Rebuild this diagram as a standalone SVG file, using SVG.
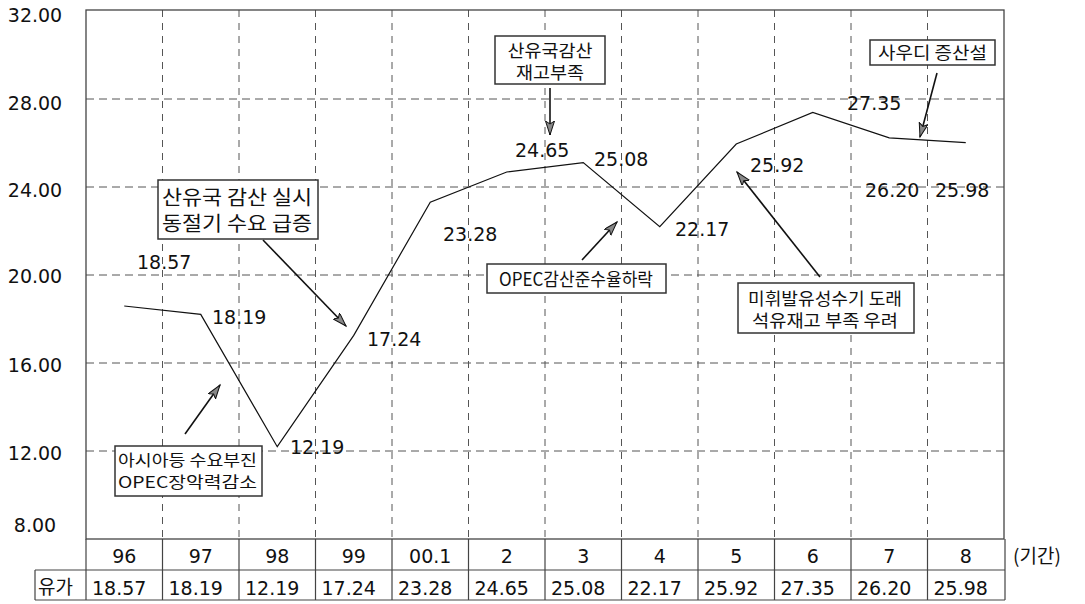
<svg xmlns="http://www.w3.org/2000/svg" width="1085" height="604" viewBox="0 0 1085 604">
<style>
.num{font-family:"DejaVu Sans","Noto Sans CJK KR",sans-serif;font-size:19px;fill:#111}
.kr{font-family:"Noto Sans CJK KR","DejaVu Sans",sans-serif;fill:#111}
.grid{stroke:#555;stroke-width:1;stroke-dasharray:8 5;fill:none}
.border{stroke:#444;stroke-width:1.3;fill:none}
.box{fill:#fff;stroke:#333;stroke-width:1.5}
.arr{stroke:#111;stroke-width:1.6;fill:none;marker-end:url(#ah)}
.series{stroke:#111;stroke-width:1.2;fill:none}
.tbl{stroke:#444;stroke-width:1.2;fill:none}
</style>
<defs>
<marker id="ah" markerUnits="userSpaceOnUse" markerWidth="16" markerHeight="10" refX="14" refY="4.5" orient="auto">
<path d="M0,0 L14,4.5 L0,9 L3,4.5 z" fill="#888" stroke="#111" stroke-width="1"/>
</marker>
</defs>
<rect width="1085" height="604" fill="#fff"/>
<g id="grid">
<path class="grid" d="M86,99H1004M86,187H1004M86,275H1004M86,363H1004M86,451H1004"/>
<path class="grid" style="stroke-dasharray:7 6" d="M162.5,10V539M239,10V539M315.5,10V539M392,10V539M468.5,10V539M545,10V539M621.5,10V539M698,10V539M774.5,10V539M851,10V539M927.5,10V539"/>
<rect class="border" x="86" y="10" width="918" height="529"/>
</g>
<g id="y-axis">
<text class="num" x="35" y="22" text-anchor="middle">32.00</text>
<text class="num" x="35" y="110" text-anchor="middle">28.00</text>
<text class="num" x="35" y="197" text-anchor="middle">24.00</text>
<text class="num" x="35" y="283" text-anchor="middle">20.00</text>
<text class="num" x="35" y="372" text-anchor="middle">16.00</text>
<text class="num" x="35" y="460" text-anchor="middle">12.00</text>
<text class="num" x="35" y="532" text-anchor="middle">8.00</text>
</g>
<g id="series">
<polyline class="series" points="124.25,306 200.75,314.4 277.25,446.7 353.75,335.4 430.25,202.2 506.75,172 583.25,162.6 659.75,226.7 736.25,144 812.75,112.5 889.25,137.9 965.75,142.7"/>
</g>
<g id="data-labels">
<text class="num" x="137" y="269">18.57</text>
<text class="num" x="212" y="324">18.19</text>
<text class="num" x="290" y="454">12.19</text>
<text class="num" x="367" y="346">17.24</text>
<text class="num" x="443" y="241">23.28</text>
<text class="num" x="515" y="157">24.65</text>
<text class="num" x="594" y="166">25.08</text>
<text class="num" x="675" y="236">22.17</text>
<text class="num" x="750" y="172">25.92</text>
<text class="num" x="847" y="110">27.35</text>
<text class="num" x="865" y="197">26.20</text>
<text class="num" x="935" y="197">25.98</text>
</g>
<g id="connectors">
<line class="arr" x1="263" y1="240" x2="346" y2="326"/>
<line class="arr" x1="185" y1="434" x2="220" y2="385"/>
<line class="arr" x1="550" y1="88" x2="550" y2="135"/>
<line class="arr" x1="582" y1="260" x2="617" y2="222"/>
<line class="arr" x1="820" y1="277" x2="737" y2="172"/>
<line class="arr" x1="937" y1="73" x2="920" y2="137"/>
</g>
<g id="note-cut-winter">
<rect class="box" x="158" y="180" width="160" height="59"/>
<text class="kr" x="162" y="205" font-size="20" textLength="150" lengthAdjust="spacingAndGlyphs">산유국 감산 실시</text>
<text class="kr" x="162" y="231" font-size="20" textLength="150" lengthAdjust="spacingAndGlyphs">동절기 수요 급증</text>
</g>
<g id="note-asia">
<rect class="box" x="115" y="446" width="147" height="50"/>
<text class="kr" x="118" y="466" font-size="16" textLength="139" lengthAdjust="spacingAndGlyphs">아시아등 수요부진</text>
<text class="kr" x="118" y="488" font-size="16" textLength="139" lengthAdjust="spacingAndGlyphs">OPEC장악력감소</text>
</g>
<g id="note-stock">
<rect class="box" x="495" y="36" width="110" height="48"/>
<text class="kr" x="550" y="57" font-size="17" text-anchor="middle" textLength="85" lengthAdjust="spacingAndGlyphs">산유국감산</text>
<text class="kr" x="550" y="79" font-size="17" text-anchor="middle" textLength="68" lengthAdjust="spacingAndGlyphs">재고부족</text>
</g>
<g id="note-opec">
<rect class="box" x="487" y="264" width="179" height="29"/>
<text class="kr" x="499" y="286" font-size="18" textLength="154" lengthAdjust="spacingAndGlyphs">OPEC감산준수율하락</text>
</g>
<g id="note-gasoline">
<rect class="box" x="738" y="283" width="176" height="50"/>
<text class="kr" x="748" y="305" font-size="17" textLength="154" lengthAdjust="spacingAndGlyphs">미휘발유성수기 도래</text>
<text class="kr" x="752" y="327" font-size="17" textLength="146" lengthAdjust="spacingAndGlyphs">석유재고 부족 우려</text>
</g>
<g id="note-saudi">
<rect class="box" x="870" y="40" width="125" height="25"/>
<text class="kr" x="878" y="59" font-size="17" textLength="109" lengthAdjust="spacingAndGlyphs">사우디 증산설</text>
</g>
<g id="table">
<path class="tbl" d="M86,539V570M35,570H1005M35,600H1005M35,570V600M1005,539V600M162.5,539V600M239,539V600M315.5,539V600M392,539V600M468.5,539V600M545,539V600M621.5,539V600M698,539V600M774.5,539V600M851,539V600M927.5,539V600M86,570V600"/>
<g class="num" text-anchor="middle">
<text x="124.25" y="563">96</text>
<text x="200.75" y="563">97</text>
<text x="277.25" y="563">98</text>
<text x="353.75" y="563">99</text>
<text x="430.25" y="563">00.1</text>
<text x="506.75" y="563">2</text>
<text x="583.25" y="563">3</text>
<text x="659.75" y="563">4</text>
<text x="736.25" y="563">5</text>
<text x="812.75" y="563">6</text>
<text x="889.25" y="563">7</text>
<text x="965.75" y="563">8</text>
</g>
<text class="kr" x="1013" y="563" font-size="19">(기간)</text>
<text class="kr" x="38" y="594" font-size="19">유가</text>
<g class="num">
<text x="92" y="595">18.57</text>
<text x="168.5" y="595">18.19</text>
<text x="245" y="595">12.19</text>
<text x="321.5" y="595">17.24</text>
<text x="398" y="595">23.28</text>
<text x="474.5" y="595">24.65</text>
<text x="551" y="595">25.08</text>
<text x="627.5" y="595">22.17</text>
<text x="704" y="595">25.92</text>
<text x="780.5" y="595">27.35</text>
<text x="857" y="595">26.20</text>
<text x="933.5" y="595">25.98</text>
</g>
</g>
</svg>
